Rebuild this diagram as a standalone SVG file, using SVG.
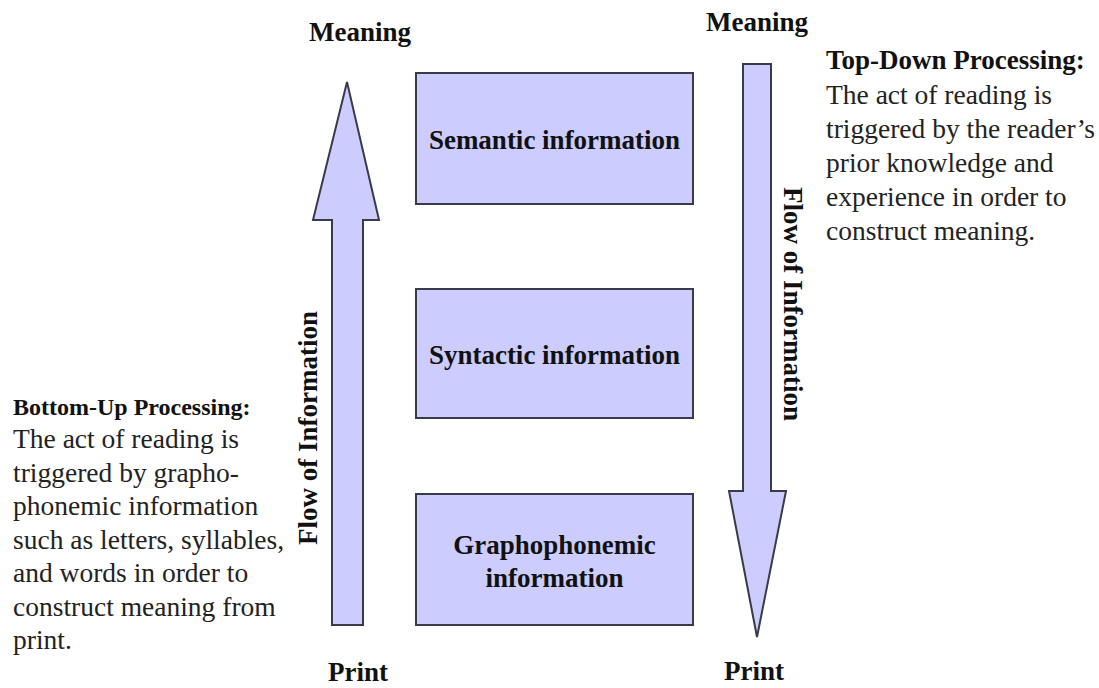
<svg xmlns="http://www.w3.org/2000/svg" width="1099" height="688" viewBox="0 0 1099 688">
<style>
.shape{fill:#ccccff;stroke:#3a3a4a;stroke-width:2}
.bt{font-family:"Liberation Serif",serif;font-weight:bold;fill:#111}
.rt{font-family:"Liberation Serif",serif;fill:#222;font-size:27.5px}
.box{font-size:27px}
.lbl{font-size:27px}
</style>
<rect width="1099" height="688" fill="#fff"/>
<g id="connectors">
<g id="arrow-up">
<polygon class="shape" points="332,625 363,625 363,220 379,220 347,82 313,220 332,220"/>
<text class="bt lbl" transform="translate(317,428) rotate(-90)" text-anchor="middle">Flow of Information</text>
</g>
<g id="arrow-down">
<polygon class="shape" points="743,64 771,64 771,491 786,491 757,637 729,491 743,491"/>
<text class="bt lbl" transform="translate(784,304) rotate(90)" text-anchor="middle">Flow of Information</text>
</g>
</g>
<g id="semantic">
<rect class="shape" x="416" y="73" width="277" height="131"/>
<text class="bt box" x="554.5" y="149" text-anchor="middle">Semantic information</text>
</g>
<g id="syntactic">
<rect class="shape" x="416" y="289" width="277" height="129"/>
<text class="bt box" x="554.5" y="364" text-anchor="middle">Syntactic information</text>
</g>
<g id="graphophonemic">
<rect class="shape" x="416" y="494" width="277" height="131"/>
<text class="bt box" x="554.5" y="554" text-anchor="middle">Graphophonemic</text>
<text class="bt box" x="554.5" y="587" text-anchor="middle">information</text>
</g>
<g id="labels">
<text class="bt lbl" x="360" y="41" text-anchor="middle">Meaning</text>
<text class="bt lbl" x="757" y="31" text-anchor="middle">Meaning</text>
<text class="bt lbl" x="358" y="681" text-anchor="middle">Print</text>
<text class="bt lbl" x="754" y="680" text-anchor="middle">Print</text>
</g>
<g id="top-down">
<text class="bt" font-size="27" x="826" y="69">Top-Down Processing:</text>
<text class="rt" x="826" y="104">The act of reading is</text>
<text class="rt" x="826" y="138">triggered by the reader’s</text>
<text class="rt" x="826" y="172">prior knowledge and</text>
<text class="rt" x="826" y="206">experience in order to</text>
<text class="rt" x="826" y="240">construct meaning.</text>
</g>
<g id="bottom-up">
<text class="bt" font-size="24" x="13" y="415">Bottom-Up Processing:</text>
<text class="rt" x="13" y="448">The act of reading is</text>
<text class="rt" x="13" y="482">triggered by grapho-</text>
<text class="rt" x="13" y="515">phonemic information</text>
<text class="rt" x="13" y="549">such as letters, syllables,</text>
<text class="rt" x="13" y="582">and words in order to</text>
<text class="rt" x="13" y="616">construct meaning from</text>
<text class="rt" x="13" y="649">print.</text>
</g>
</svg>
